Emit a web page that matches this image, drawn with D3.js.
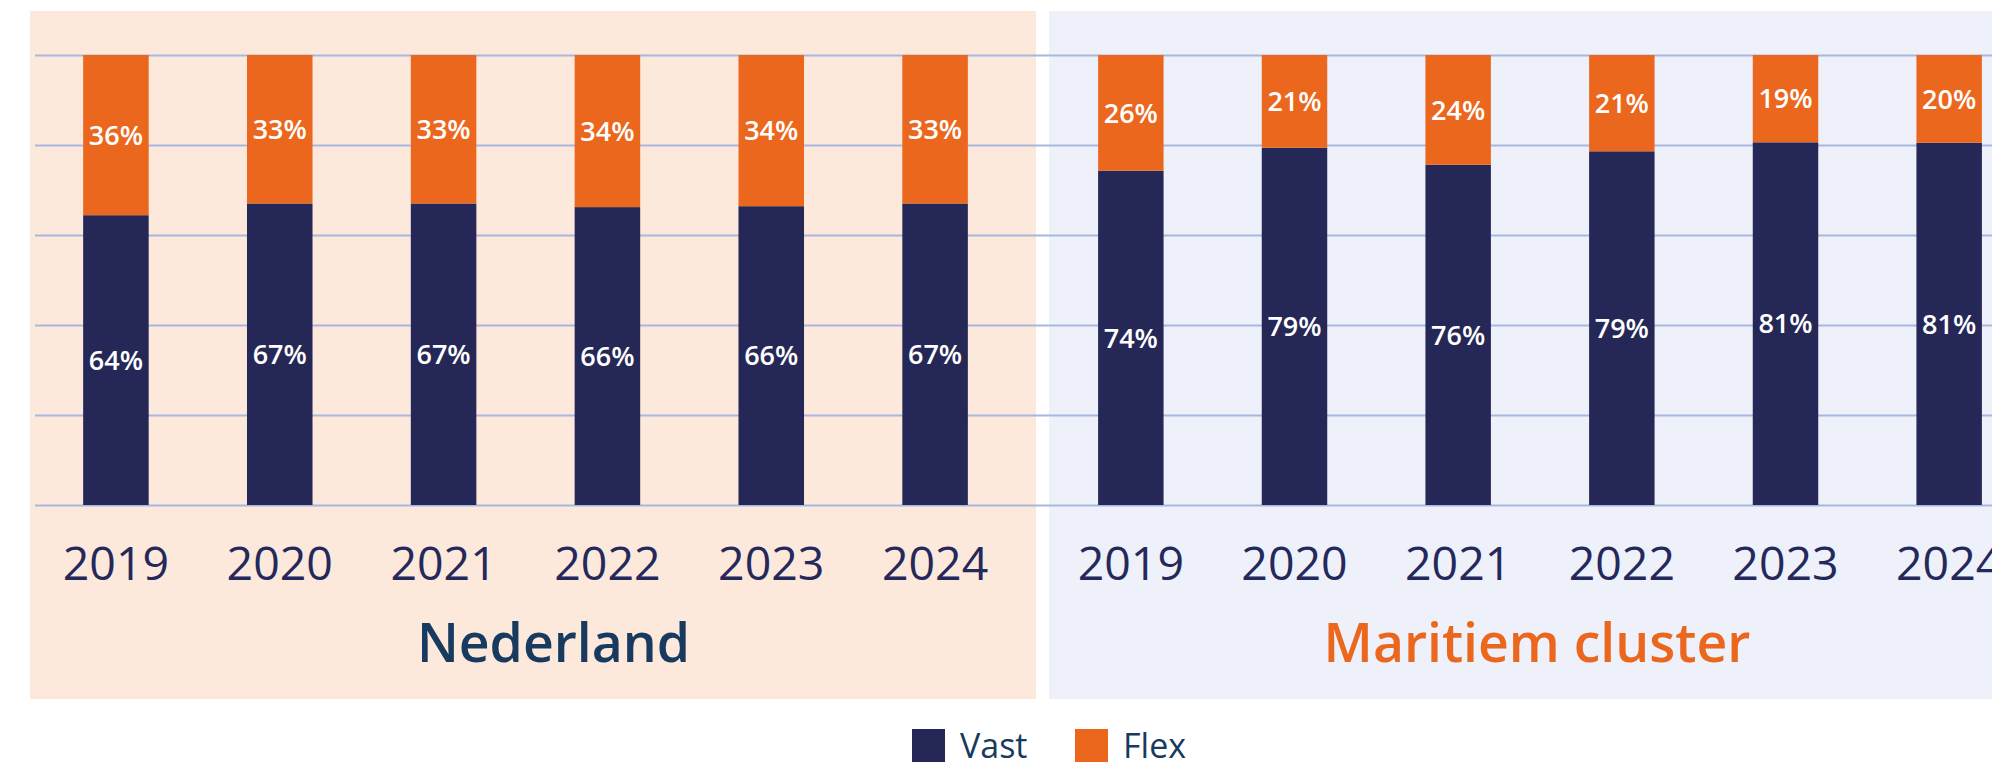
<!DOCTYPE html>
<html>
<head>
<meta charset="utf-8">
<script src="https://cdn.jsdelivr.net/npm/d3@7"></script>
<style>
  body { margin: 0; background: #fff; }
  svg { display: block; font-family: "Open Sans", sans-serif; }
</style>
</head>
<body>
<div id="chart"></div>
<script>
// data (percent of jobs)
var years = ['2019', '2020', '2021', '2022', '2023', '2024'];
var groups = ['Nederland', 'Maritiem cluster'];
var vastNL = [64.4, 67.0, 67.0, 66.2, 66.4, 67.0];
var flexNL = [35.6, 33.0, 33.0, 33.8, 33.6, 33.0];
var vastMC = [74.3, 79.4, 75.6, 78.6, 80.6, 80.5];
var flexMC = [25.7, 20.6, 24.4, 21.4, 19.4, 19.5];
var yTicks = [0, 20, 40, 60, 80, 100];
var seriesNames = ['Vast', 'Flex'];

var width = 1992, height = 767;
var colors = { Vast: '#252857', Flex: '#eb671e' };

var svg = d3.select('#chart').append('svg')
  .attr('width', width).attr('height', height);

var y = d3.scaleLinear().domain([0, 100]).range([505, 55]);

var panels = [
  { name: groups[0], vast: vastNL, flex: flexNL, bg: '#fce9dc', x0: 30, x1: 1036,
    range: [34, 1017], labelColor: '#173a5e', labelShift: 28 },
  { name: groups[1], vast: vastMC, flex: flexMC, bg: '#eef1fa', x0: 1049, x1: 1992,
    range: [1049, 2031], labelColor: '#eb671e', labelShift: -3 }
];

// panel backgrounds
svg.selectAll('rect.bg')
  .data(panels)
  .enter().append('rect')
  .attr('class', 'bg')
  .attr('x', function (d) { return d.x0; })
  .attr('y', 11)
  .attr('width', function (d) { return d.x1 - d.x0; })
  .attr('height', 688)
  .attr('fill', function (d) { return d.bg; });

// gridlines
svg.append('g')
  .attr('transform', 'translate(1992,0)')
  .call(d3.axisLeft(y).tickValues(yTicks).tickSize(1992 - 35).tickFormat(''))
  .call(function (g) {
    g.select('.domain').remove();
    g.selectAll('line').attr('stroke', '#a8b7e0').attr('stroke-width', 2);
  });

panels.forEach(function (p) {
  var x = d3.scaleBand().domain(years).range(p.range).paddingInner(0.6).paddingOuter(0.3);
  var rows = years.map(function (yr, i) {
    return { year: yr, Vast: p.vast[i], Flex: p.flex[i] };
  });
  var stacked = d3.stack().keys(seriesNames)(rows);

  var g = svg.append('g');
  g.selectAll('g.series')
    .data(stacked)
    .enter().append('g')
    .attr('fill', function (s) { return colors[s.key]; })
    .each(function (s) {
      var sel = d3.select(this);
      sel.selectAll('rect')
        .data(s)
        .enter().append('rect')
        .attr('x', function (d) { return x(d.data.year); })
        .attr('width', x.bandwidth())
        .attr('y', function (d) { return y(d[1]); })
        .attr('height', function (d) { return y(d[0]) - y(d[1]); });
      sel.selectAll('text')
        .data(s)
        .enter().append('text')
        .attr('x', function (d) { return x(d.data.year) + x.bandwidth() / 2; })
        .attr('y', function (d) { return (y(d[0]) + y(d[1])) / 2; })
        .attr('dy', '0.36em')
        .attr('text-anchor', 'middle')
        .attr('fill', '#fff')
        .attr('font-size', 27)
        .attr('font-weight', 600)
        .text(function (d) { return Math.round(d[1] - d[0]) + '%'; });
    });

  // year labels
  g.selectAll('text.year')
    .data(years)
    .enter().append('text')
    .attr('class', 'year')
    .attr('x', function (d) { return x(d) + x.bandwidth() / 2; })
    .attr('y', 580)
    .attr('text-anchor', 'middle')
    .attr('fill', '#24285a')
    .attr('font-size', 46.5)
    .text(function (d) { return d; });

  // group label
  var mid = (x(years[0]) + x(years[years.length - 1]) + x.bandwidth()) / 2;
  g.append('text')
    .attr('x', mid + p.labelShift)
    .attr('y', 662)
    .attr('text-anchor', 'middle')
    .attr('fill', p.labelColor)
    .attr('font-size', 53.5)
    .attr('font-weight', 600)
    .text(p.name);
});

// legend
var legend = svg.append('g').attr('transform', 'translate(912,729)');
var item = legend.selectAll('g')
  .data(seriesNames)
  .enter().append('g')
  .attr('transform', function (d, i) { return 'translate(' + (i * 163) + ',0)'; });
item.append('rect')
  .attr('width', 33).attr('height', 33)
  .attr('fill', function (d) { return colors[d]; });
item.append('text')
  .attr('x', 48).attr('y', 17)
  .attr('dy', '0.36em')
  .attr('fill', '#173a5e')
  .attr('font-size', 34)
  .text(function (d) { return d; });
</script>
</body>
</html>
